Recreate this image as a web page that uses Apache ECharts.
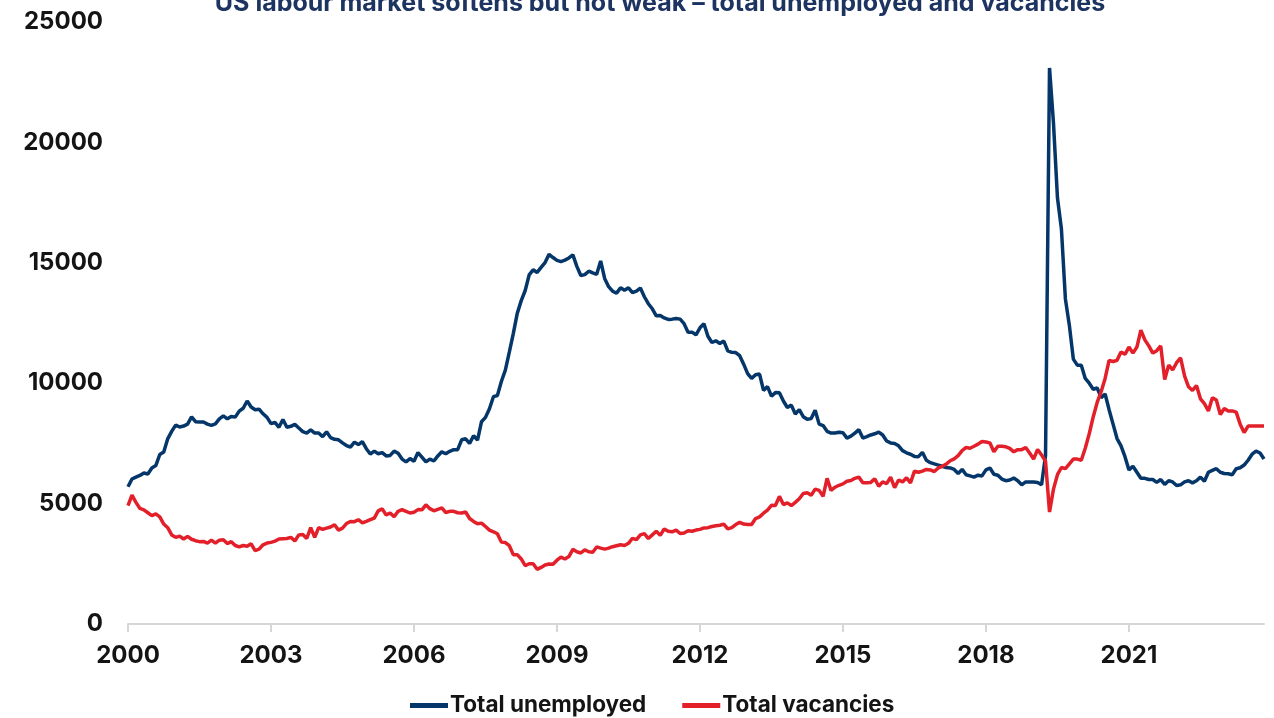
<!DOCTYPE html>
<html><head><meta charset="utf-8">
<script src="https://cdn.jsdelivr.net/npm/echarts/dist/echarts.min.js"></script>
<style>html,body{margin:0;padding:0;background:#fff}#c{width:1274px;height:718px}</style>
</head><body><div id="c"></div>
<script>
const titleText = 'US labour market softens but not weak – total unemployed and vacancies';
const seriesNames = ['Total unemployed', 'Total vacancies'];
const startYear = 2000;
const tickYears = [2000, 2003, 2006, 2009, 2012, 2015, 2018, 2021];
const yTicks = [0, 5000, 10000, 15000, 20000, 25000];

const unemployed = [
5700,6020,6100,6170,6270,6230,6480,6580,7040,7140,7690,8000,
8260,8180,8220,8300,8600,8400,8390,8390,8300,8250,8310,8520,
8640,8520,8620,8590,8840,8960,9260,9010,8900,8920,8730,8580,
8320,8370,8170,8490,8170,8210,8290,8140,7990,7930,8060,7930,
7930,7780,7980,7740,7670,7650,7520,7410,7350,7550,7450,7570,
7280,7060,7180,7070,7120,6980,7000,7180,7090,6850,6730,6870,
6760,7120,6930,6730,6850,6770,6980,7150,7070,7170,7240,7240,
7650,7690,7500,7820,7640,8400,8580,8940,9440,9490,10070,10540,
11290,12060,12900,13430,13850,14500,14710,14600,14810,15010,15350,15220,
15100,15050,15110,15200,15330,14850,14470,14510,14650,14580,14520,15080,
14350,14010,13820,13740,13960,13860,13960,13760,13820,13950,13590,13300,
13090,12800,12810,12710,12650,12660,12690,12660,12470,12120,12120,12010,
12300,12470,11950,11690,11760,11650,11750,11340,11280,11270,11140,10790,
10400,10200,10350,10380,9700,9860,9460,9610,9600,9260,8990,9090,
8720,8900,8610,8500,8530,8880,8300,8240,8000,7930,7930,7960,
7940,7720,7800,7930,8070,7720,7780,7850,7900,7970,7850,7600,
7520,7500,7400,7200,7110,7050,6960,6950,7130,6800,6700,6650,
6600,6550,6500,6480,6420,6250,6420,6200,6150,6100,6180,6150,
6400,6480,6220,6180,6020,5950,5980,6060,5950,5780,5900,5900,
5900,5880,5780,7000,23090,20800,17700,16400,13500,12400,11000,10750,
10750,10200,10000,9750,9800,9400,9550,8900,8300,7700,7400,6950,
6400,6550,6300,6050,6050,6000,6000,5880,6000,5800,5950,5900,
5750,5780,5900,5950,5860,5950,6100,5930,6300,6380,6450,6300,
6250,6240,6200,6450,6490,6600,6800,7050,7180,7100,6850
];

const vacancies = [
4920,5350,5050,4800,4740,4620,4500,4570,4450,4150,4000,3700,
3600,3650,3530,3640,3520,3460,3420,3430,3360,3480,3360,3480,
3500,3340,3420,3260,3200,3260,3230,3330,3050,3110,3290,3360,
3390,3440,3530,3540,3550,3600,3450,3700,3720,3550,4000,3600,
4000,3930,3980,4030,4120,3900,3980,4170,4260,4250,4330,4200,
4260,4330,4400,4700,4780,4530,4610,4450,4680,4750,4680,4610,
4640,4750,4740,4950,4790,4700,4760,4820,4630,4680,4680,4620,
4610,4650,4380,4260,4160,4190,4050,3900,3830,3750,3400,3380,
3250,2880,2880,2700,2420,2500,2500,2270,2350,2450,2490,2480,
2650,2780,2700,2800,3100,3000,2950,3080,3000,2980,3200,3150,
3110,3150,3210,3250,3290,3260,3350,3560,3500,3700,3750,3550,
3700,3850,3680,3950,3850,3830,3900,3760,3780,3870,3850,3900,
3930,3990,4000,4050,4080,4100,4150,3950,4000,4130,4220,4150,
4130,4130,4380,4450,4600,4730,4930,4920,5300,4960,5030,4920,
5050,5200,5420,5450,5350,5600,5550,5300,6050,5550,5680,5760,
5820,5930,5960,6050,6100,5870,5870,5880,6030,5720,5900,5830,
6100,5660,5980,5900,6070,5860,6350,6300,6350,6420,6400,6330,
6480,6550,6640,6780,6860,6990,7200,7330,7300,7380,7470,7580,
7560,7520,7150,7380,7380,7360,7290,7150,7240,7240,7330,7100,
6850,7250,7020,6750,4650,5600,6200,6500,6450,6650,6850,6850,
6800,7300,7900,8600,9200,9650,10200,10950,10900,10950,11300,11200,
11500,11250,11500,12200,11800,11550,11250,11350,11550,10150,10750,10550,
10850,11050,10300,9850,9700,9900,9350,9150,8850,9400,9300,8700,
8950,8850,8850,8800,8300,7950,8220,8220,8220,8220,8220
];

const months = unemployed.map((_, i) =>
  (startYear + Math.floor(i / 12)) + '-' + String(i % 12 + 1).padStart(2, '0'));

const isTick = (idx) => {
  const m = months[idx];
  return !!m && m.slice(5) === '01' && tickYears.indexOf(+m.slice(0, 4)) >= 0;
};

const FONT = 'Inter, "Open Sans", sans-serif';
const chart = echarts.init(document.getElementById('c'), null, {renderer: 'canvas'});
chart.setOption({
  animation: false,
  backgroundColor: '#ffffff',
  title: {
    text: titleText,
    left: 655, top: -14, textAlign: 'center',
    textStyle: {fontFamily: FONT, fontSize: 25, fontWeight: 700, color: '#1d3461'}
  },
  grid: {left: 128, right: 10, top: 22, bottom: 94, containLabel: false, outerBoundsMode: 'none'},
  legend: {
    data: seriesNames,
    top: 689, left: 405,
    icon: 'rect', itemWidth: 38, itemHeight: 5, itemGap: 36,
    textStyle: {fontFamily: FONT, fontSize: 22.5, fontWeight: 700, color: '#141414', padding: [0, 0, 0, -3]}
  },
  xAxis: {
    type: 'category',
    data: months,
    boundaryGap: false,
    axisLine: {show: true, lineStyle: {color: '#d6d6d6', width: 2}},
    axisTick: {show: true, length: 8, interval: (i) => isTick(i), lineStyle: {color: '#d6d6d6', width: 2}},
    axisLabel: {
      interval: (i) => isTick(i),
      formatter: (v) => v.slice(0, 4),
      margin: 20,
      hideOverlap: false,
      fontFamily: FONT, fontSize: 24, fontWeight: 700, color: '#141414'
    },
    splitLine: {show: false}
  },
  yAxis: {
    type: 'value',
    min: yTicks[0], max: yTicks[yTicks.length - 1], interval: 5000,
    axisLine: {show: false},
    axisTick: {show: false},
    splitLine: {show: false},
    axisLabel: {margin: 25, formatter: (v) => String(v),
      fontFamily: FONT, fontSize: 24, fontWeight: 700, color: '#141414'}
  },
  series: [
    {name: seriesNames[0], type: 'line', data: unemployed, showSymbol: false, symbol: 'none',
     color: '#043669', lineStyle: {width: 3.5, color: '#043669'}},
    {name: seriesNames[1], type: 'line', data: vacancies, showSymbol: false, symbol: 'none',
     color: '#e31f2a', lineStyle: {width: 3.5, color: '#e31f2a'}}
  ]
});
</script>
</body></html>
